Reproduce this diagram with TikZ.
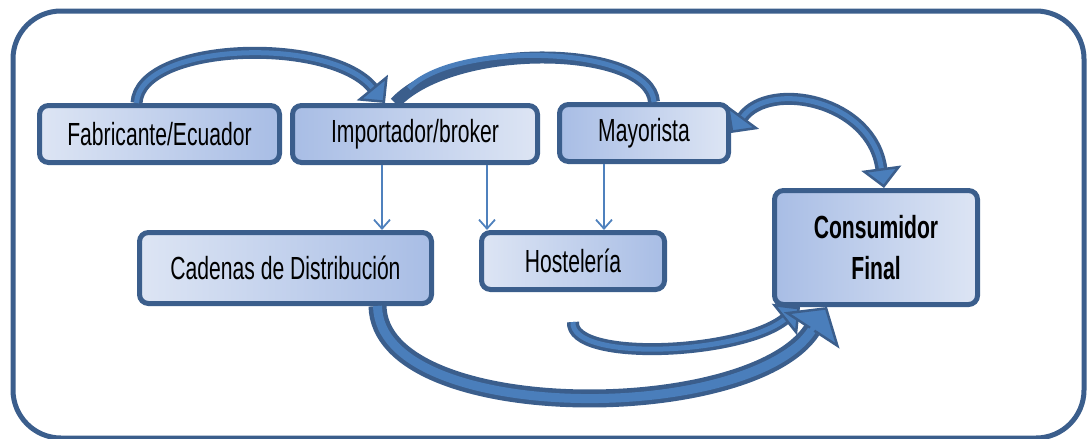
\documentclass[tikz,border=0pt]{standalone}
\usepackage{fontspec}
\setmainfont{Liberation Sans}[FakeStretch=0.66]
\usepackage{tikz}
\usetikzlibrary{arrows.meta, positioning, calc}
\definecolor{edgeBlue}{HTML}{3B5E8C}
\definecolor{arrowBlue}{HTML}{4A7EBB}
\definecolor{lineBlue}{HTML}{4F81BD}
\definecolor{boxLight}{HTML}{DDE5F4}
\definecolor{boxDark}{HTML}{A8BDE5}

\begin{document}
\begin{tikzpicture}[x=1pt, y=-1pt,
    entity/.style={rectangle, rounded corners=9pt, draw=edgeBlue, line width=5pt, align=center,
        font=\fontsize{32}{41}\selectfont, inner sep=0pt},
    supply/.style={draw=lineBlue, line width=1.8pt, -{Straight Barb[length=9pt, width=16pt]}},
    flow/.style={draw=edgeBlue, line width=12pt,
        -{Triangle[length=20pt, width=40pt, color=edgeBlue, fill=arrowBlue, line width=2.5pt]},
        postaction={draw=arrowBlue, line width=5pt, -, shorten >=20pt}},
    flowtwo/.style={draw=edgeBlue, line width=12pt,
        {Triangle[length=20pt, width=40pt, color=edgeBlue, fill=arrowBlue, line width=2.5pt]}-{Triangle[length=20pt, width=40pt, color=edgeBlue, fill=arrowBlue, line width=2.5pt]},
        postaction={draw=arrowBlue, line width=5pt, -, shorten >=20pt, shorten <=20pt}},
]
    \useasboundingbox (0,0) rectangle (1090,439);
    \draw[edgeBlue, line width=5pt, rounded corners=48pt] (13,11) rectangle (1084,438);

    % upper row
    \node[entity, minimum width=240pt, minimum height=57pt, left color=boxLight, right color=boxDark] (fab) at (159.5,134) {Fabricante/Ecuador};
    \node[entity, minimum width=245pt, minimum height=57pt, left color=boxDark, right color=boxLight] (imp) at (415,134) {Importador/broker};
    \node[entity, minimum width=169pt, minimum height=57pt, left color=boxDark, right color=boxLight] (may) at (644,133) {Mayorista};

    % lower row
    \node[entity, minimum width=292pt, minimum height=71pt, left color=boxLight, right color=boxDark] (cad) at (285.5,268) {Cadenas de Distribución};
    \node[entity, minimum width=183pt, minimum height=57pt, left color=boxLight, right color=boxDark] (hos) at (573,261) {Hostelería};
    \node[entity, minimum width=203pt, minimum height=114pt, left color=boxDark, right color=boxLight, font=\fontsize{32}{41}\selectfont\bfseries] (con) at (876,247.5) {Consumidor\\Final};

    \draw[supply] ([xshift=-33pt]imp.south) -- ([xshift=-33pt]imp.south |- cad.north);
    \draw[supply] ([xshift=72pt]imp.south) -- ([xshift=72pt]imp.south |- hos.north);
    \draw[supply] ([xshift=-40pt]may.south) -- ([xshift=-40pt]may.south |- hos.north);

    \draw[flow, -] ([xshift=10pt]may.north) .. controls (650,45) and (455,40) .. ([xshift=-20pt]imp.north);
    \draw[flow] ([xshift=-23pt]fab.north) .. controls (140,42) and (330,36) .. ([xshift=-30pt]imp.north);
    \draw[flowtwo] (may.east) .. controls (770,80) and (872,100) .. ([xshift=8pt]con.north);

    \draw[flow] ([yshift=-30pt]hos.south) .. controls (570,362) and (740,355) .. ([xshift=-76pt]con.south);
    \draw[flow, line width=18pt,
        -{Triangle[length=28pt, width=66pt, color=edgeBlue, fill=arrowBlue, line width=2.5pt]},
        postaction={draw=arrowBlue, line width=9pt, -, shorten >=28pt}]
        ([xshift=92pt]cad.south) .. controls (380,425) and (750,425) .. ([xshift=-49pt]con.south);
\end{tikzpicture}
\end{document}
